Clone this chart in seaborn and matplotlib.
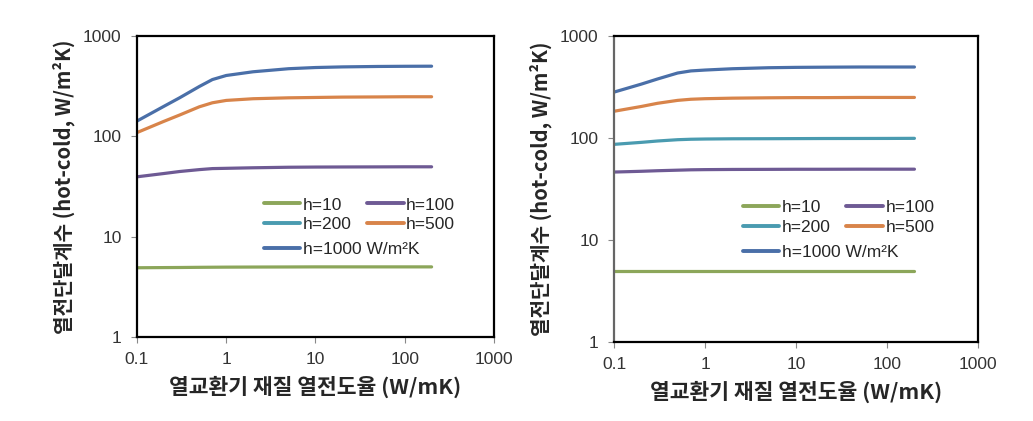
import matplotlib
matplotlib.use("Agg")
import matplotlib.pyplot as plt
import seaborn as sns
import pandas as pd
from matplotlib.lines import Line2D

# ---------------- data ----------------
k_values = [0.1, 0.2, 0.3, 0.5, 0.7, 1, 2, 5, 10, 20, 50, 100, 200]
series_names = ["h=10", "h=100", "h=200", "h=500", "h=1000"]

left_h10 = [4.90, 4.92, 4.93, 4.95, 4.96, 4.97, 4.98, 4.99, 5.0, 5.0, 5.0, 5.0, 5.0]
left_h100 = [39.5, 42.6, 44.6, 46.6, 47.7, 48.0, 48.6, 49.2, 49.4, 49.5, 49.6, 49.7, 49.7]
left_h500 = [109, 141, 163, 197, 216, 228, 237, 242, 244, 246, 247, 248, 248]
left_h1000 = [142, 199, 242, 314, 368, 404, 440, 472, 485, 492, 497, 499, 500]

right_h10 = [4.97, 4.97, 4.97, 4.97, 4.97, 4.97, 4.97, 4.97, 4.97, 4.97, 4.97, 4.97, 4.97]
right_h100 = [46.4, 47.2, 47.8, 48.4, 48.8, 49.0, 49.2, 49.3, 49.4, 49.4, 49.5, 49.5, 49.5]
right_h200 = [86.7, 90.7, 93.5, 96.3, 97.3, 97.8, 98.3, 98.5, 98.7, 98.9, 99.0, 99.1, 99.3]
right_h500 = [183, 204, 219, 234, 240, 243, 246, 248, 249, 249, 250, 250, 250]
right_h1000 = [282, 338, 379, 434, 455, 464, 478, 489, 493, 495, 497, 497, 497]

x_ticks = [0.1, 1, 10, 100, 1000]
x_tick_labels = ["0.1", "1", "10", "100", "1000"]
y_ticks = [1, 10, 100, 1000]
y_tick_labels = ["1", "10", "100", "1000"]

x_label = "열교환기 재질 열전도율 (W/mK)"
y_label = "열전단달계수 (hot-cold, W/m²K)"
unit_suffix = " W/m²K"

colors = {
    "h=10": "#8CA65A",
    "h=100": "#6E5A94",
    "h=200": "#4A9BB0",
    "h=500": "#D8844A",
    "h=1000": "#4A6FA8",
}

left_data = {"h=10": left_h10, "h=100": left_h100, "h=500": left_h500, "h=1000": left_h1000}
right_data = {"h=10": right_h10, "h=100": right_h100, "h=200": right_h200,
              "h=500": right_h500, "h=1000": right_h1000}


def to_long(d):
    rows = []
    for name, vals in d.items():
        for k, v in zip(k_values, vals):
            rows.append({"k": k, "U": v, "series": name})
    return pd.DataFrame(rows)


# ---------------- style ----------------
sns.set_style("white")
plt.rcParams["font.family"] = ["Liberation Sans", "Noto Sans CJK KR", "DejaVu Sans"]

fig = plt.figure(figsize=(10.33, 4.21), dpi=100)
ax_l = fig.add_axes([0.1326, 0.1995, 0.3456, 0.715])
ax_r = fig.add_axes([0.5944, 0.1876, 0.3524, 0.7268])

xlabel_font = dict(family=["Noto Sans CJK KR", "DejaVu Sans"], fontsize=15.5, fontweight="bold")
ylabel_font = dict(family=["Noto Sans CJK KR", "DejaVu Sans"], fontsize=14.5, fontweight="bold")
leg_prop = {"family": ["Liberation Sans", "DejaVu Sans"], "size": 12.5}

for ax, d in [(ax_l, left_data), (ax_r, right_data)]:
    df = to_long(d)
    sns.lineplot(data=df, x="k", y="U", hue="series", palette=colors, ax=ax,
                 linewidth=2.3, legend=False, estimator=None, sort=True)
    ax.set_xscale("log")
    ax.set_yscale("log")
    ax.set_xlim(0.1, 1000)
    ax.set_ylim(1, 1000)
    ax.set_xticks(x_ticks)
    ax.set_xticklabels(x_tick_labels)
    ax.set_yticks(y_ticks)
    ax.set_yticklabels(y_tick_labels)
    ax.minorticks_off()
    ax.tick_params(axis="both", which="major", direction="out", length=4, width=0.8,
                   color="#888888", labelsize=12.5, labelcolor="#333333", pad=7,
                   bottom=True, left=True)
    for s in ax.spines.values():
        s.set_color("black")
        s.set_linewidth(1.6)
    ax.set_xlabel(x_label, labelpad=6, **xlabel_font)
    ax.set_ylabel(y_label, labelpad=6, **ylabel_font)

    # legend: two columns for the first four entries, one long entry below
    h = {n: Line2D([], [], color=colors[n], lw=2.8) for n in series_names}
    leg1 = ax.legend([h["h=10"], h["h=200"], h["h=100"], h["h=500"]],
                     ["h=10", "h=200", "h=100", "h=500"],
                     ncol=2, frameon=False, loc="upper left",
                     bbox_to_anchor=(0.335, 0.487), prop=leg_prop,
                     handlelength=2.1, handletextpad=0.15, columnspacing=0.9,
                     labelspacing=0.25, borderaxespad=0.0)
    ax.add_artist(leg1)
    ax.legend([h["h=1000"]], ["h=1000" + unit_suffix], frameon=False, loc="upper left",
              bbox_to_anchor=(0.335, 0.34), prop=leg_prop,
              handlelength=2.1, handletextpad=0.15, borderaxespad=0.0)

ax_r.spines["left"].set_color("#666666")

fig.savefig("out.png", dpi=100)
